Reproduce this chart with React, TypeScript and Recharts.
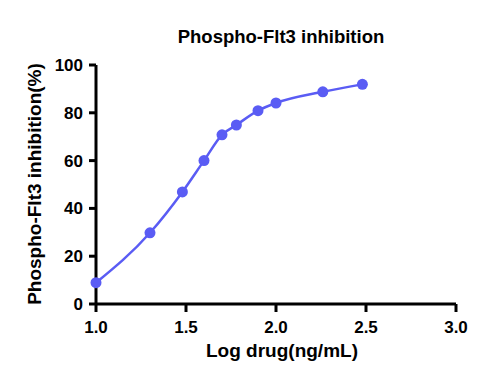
import { LineChart, Line, XAxis, YAxis, Label } from 'recharts';

const logDose = [1.0, 1.3, 1.48, 1.6, 1.7, 1.78, 1.9, 2.0, 2.26, 2.48];
const inhibition = [8.9, 29.8, 46.9, 60.0, 70.8, 74.9, 80.9, 84.1, 88.8, 91.9];
const xTicks = [1.0, 1.5, 2.0, 2.5, 3.0];
const yTicks = [0, 20, 40, 60, 80, 100];

const FONT = '"Liberation Sans", Arial, sans-serif';
const LINE_COLOR = '#5a5cf4';

const chartData = logDose.map((x, i) => ({ x, y: inhibition[i] }));

const tickStyle = { fontFamily: FONT, fontSize: 17, fontWeight: 700, fill: '#000' };
const labelStyle = { fontFamily: FONT, fontSize: 19, fontWeight: 700, fill: '#000' };

export default function App() {
  return (
    <div style={{ position: 'absolute', left: 0, top: 0, width: 490, height: 383, background: '#fff' }}>
      <LineChart
        width={490}
        height={383}
        data={chartData}
        margin={{ top: 65, right: 34, bottom: 0, left: 0 }}
      >
        <text
          x={281}
          y={43}
          textAnchor="middle"
          style={{ fontFamily: FONT, fontSize: 18.5, fontWeight: 700, fill: '#000' }}
        >
          Phospho-Flt3 inhibition
        </text>
        <XAxis
          dataKey="x"
          type="number"
          domain={[1, 3]}
          ticks={xTicks}
          tickFormatter={(v: number) => v.toFixed(1)}
          height={79}
          stroke="#000"
          strokeWidth={3}
          tickSize={8}
          tickMargin={9}
          tick={tickStyle}
          tickLine={{ stroke: '#000', strokeWidth: 3 }}
        >
          <Label
            content={() => (
              <text x={282} y={357} textAnchor="middle" style={labelStyle}>
                Log drug(ng/mL)
              </text>
            )}
          />
        </XAxis>
        <YAxis
          type="number"
          domain={[0, 100]}
          ticks={yTicks}
          width={96}
          stroke="#000"
          strokeWidth={3}
          tickSize={7}
          tickMargin={6}
          tick={tickStyle}
          tickLine={{ stroke: '#000', strokeWidth: 3 }}
        >
          <Label
            content={() => (
              <text
                x={41}
                y={184}
                textAnchor="middle"
                transform="rotate(-90 41 184)"
                style={labelStyle}
              >
                Phospho-Flt3 inhibition(%)
              </text>
            )}
          />
        </YAxis>
        <Line
          dataKey="y"
          type="monotone"
          stroke={LINE_COLOR}
          strokeWidth={2.5}
          dot={{ r: 5.5, fill: LINE_COLOR, stroke: LINE_COLOR, strokeWidth: 0 }}
          activeDot={false}
          isAnimationActive={false}
        />
      </LineChart>
    </div>
  );
}
